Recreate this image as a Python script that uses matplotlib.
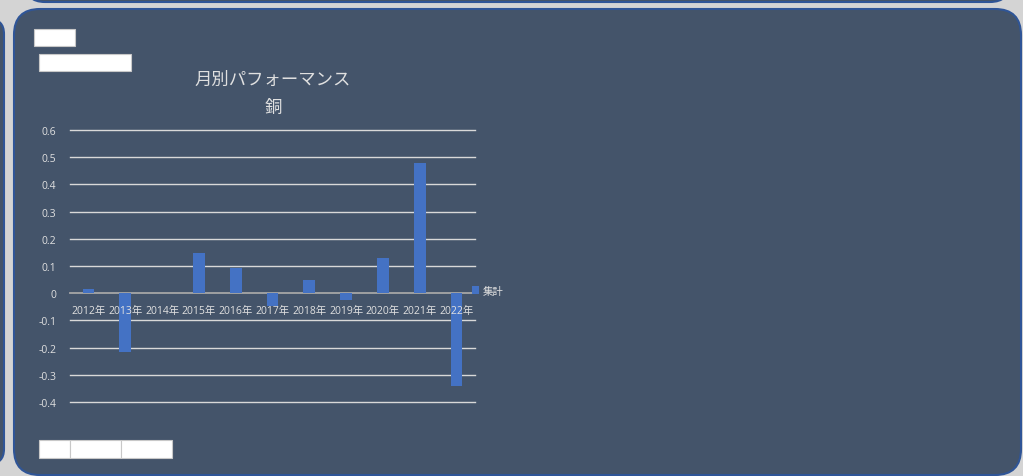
import matplotlib
matplotlib.use("Agg")
import matplotlib.pyplot as plt
from matplotlib.patches import FancyBboxPatch, Rectangle
import numpy as np

plt.rcParams['font.family'] = ['Open Sans', 'Noto Sans CJK JP', 'DejaVu Sans']

categories = ["2012年", "2013年", "2014年", "2015年", "2016年", "2017年",
              "2018年", "2019年", "2020年", "2021年", "2022年"]
values = [0.015, -0.215, 0.001, 0.147, 0.093, -0.048, 0.047, -0.025, 0.128, 0.478, -0.343]
yticks = [-0.4, -0.3, -0.2, -0.1, 0, 0.1, 0.2, 0.3, 0.4, 0.5, 0.6]
ytick_labels = ["-0.4", "-0.3", "-0.2", "-0.1", "0", "0.1", "0.2", "0.3", "0.4", "0.5", "0.6"]
title_lines = ["月別パフォーマンス", "銅"]
series_name = "集計"

W, H = 1023, 477
fig = plt.figure(figsize=(W / 100, H / 100), dpi=100)
fig.patch.set_facecolor("#d4d4d4")

panel = "#44546a"
border = "#2f5597"
txt = "#e0e0e0"
cjk = ['Noto Sans CJK JP', 'DejaVu Sans']

bg = fig.add_axes([0, 0, 1, 1])
bg.set_xlim(0, W)
bg.set_ylim(H, 0)
bg.axis("off")
bg.add_patch(FancyBboxPatch((25, -40), 985, 43, boxstyle="round,pad=0,rounding_size=20",
                            fc=panel, ec=border, lw=1.5))
bg.add_patch(FancyBboxPatch((-40, 20), 44, 445, boxstyle="round,pad=0,rounding_size=15",
                            fc=panel, ec=border, lw=1.5))
bg.add_patch(FancyBboxPatch((14, 10), 1007, 466, boxstyle="round,pad=0,rounding_size=26",
                            fc=panel, ec=border, lw=1.5))
bg.add_patch(Rectangle((34, 30), 41, 17, fc="white", ec="#c8c8c8", lw=0.8))
bg.add_patch(Rectangle((39, 55), 92, 17, fc="white", ec="#c8c8c8", lw=0.8))
for x0, w in [(39, 31), (70, 51), (121, 51)]:
    bg.add_patch(Rectangle((x0, 441), w, 18, fc="white", ec="#c8c8c8", lw=0.8))

fig.text(273 / W, 1 - 80 / H, title_lines[0], ha="center", va="center", color=txt,
         fontsize=12.5, family=cjk)
fig.text(273 / W, 1 - 108 / H, title_lines[1], ha="center", va="center", color=txt,
         fontsize=12.5, family=cjk)

ax = fig.add_axes([70 / W, 1 - 403 / H, 405 / W, 272 / H])
ax.set_facecolor("none")
x = np.arange(len(categories))
ax.set_xlim(-0.5, len(categories) - 0.5)
ax.set_ylim(-0.4, 0.6)
for y in yticks:
    ax.axhline(y, color="#d9d9d9" if y != 0 else "#a6a6a6", lw=1.0 if y != 0 else 1.3,
               zorder=0, clip_on=False)
bars = ax.bar(x, values, width=0.32, color="#4472c4", zorder=2, label=series_name)
for s in ax.spines.values():
    s.set_visible(False)
ax.set_xticks([])
ax.set_yticks(yticks)
ax.set_yticklabels(ytick_labels)
ax.tick_params(axis="y", length=0, pad=10, labelsize=7.5, labelcolor=txt)
for xi, lab in zip(x, categories):
    ax.annotate(lab, (xi, 0), xytext=(0, -12.5), textcoords="offset points",
                ha="center", va="center", color=txt, fontsize=7.5, zorder=5)

fig.legend(handles=[bars], labels=[series_name], loc="center left",
           bbox_to_anchor=(472 / W, 1 - 292 / H), frameon=False, fontsize=7.5,
           labelcolor=txt, handlelength=0.7, handleheight=0.7, handletextpad=0.3,
           borderpad=0, borderaxespad=0)

fig.savefig("out.png", dpi=100, facecolor=fig.get_facecolor())
